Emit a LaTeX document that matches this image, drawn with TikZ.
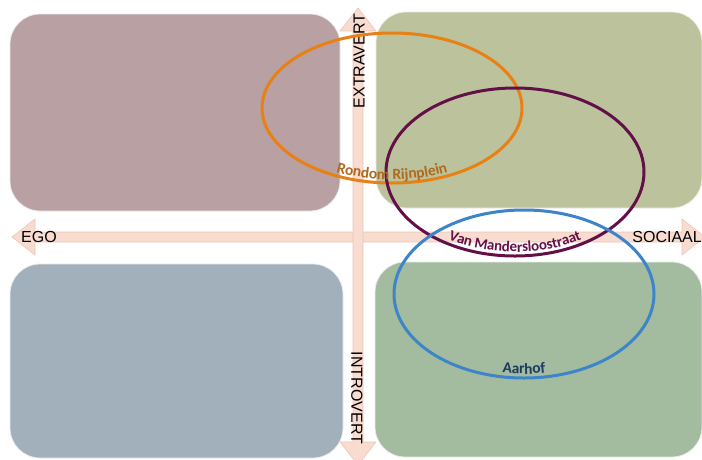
\documentclass[tikz,border=0pt]{standalone}
\usepackage{fontspec}
\setmainfont{Carlito}
\newfontfamily\axisfont{Liberation Sans}
\usepackage{tikz}
\usetikzlibrary{calc,decorations.text}

\definecolor{egoext}{RGB}{185,160,162}
\definecolor{socext}{RGB}{188,195,156}
\definecolor{egoint}{RGB}{162,176,188}
\definecolor{socint}{RGB}{163,187,159}
\definecolor{axisfill}{RGB}{248,220,208}
\definecolor{axisline}{RGB}{238,196,184}
\definecolor{rondom}{RGB}{232,128,20}
\definecolor{rondomtxt}{RGB}{176,106,30}
\definecolor{mander}{RGB}{100,16,72}
\definecolor{aarhof}{RGB}{62,132,200}
\definecolor{aarhoftxt}{RGB}{30,58,96}

\begin{document}
\begin{tikzpicture}[x=1pt,y=1pt,
    quad/.style={draw=white!85!gray, line width=0.8pt, rounded corners=30pt,
      inner sep=0pt, outer sep=0pt, anchor=north west},
    axis/.style={fill=axisfill, draw=axisline, line width=0.6pt},
    axislabel/.style={font=\axisfont\fontsize{16}{16}\selectfont, inner sep=0pt},
    buurt/.style={line width=3pt},
    buurtlabel/.style={decorate, decoration={text along path, text align=center, raise=#1}}
  ]
  \useasboundingbox (0,0) rectangle (702,-459);

  % quadranten
  \node[quad, fill=egoext, minimum width=330pt, minimum height=197pt] (egoExt) at (10,-14) {};
  \node[quad, fill=socext, minimum width=326pt, minimum height=196pt] (socExt) at (376,-12) {};
  \node[quad, fill=egoint, minimum width=333pt, minimum height=194pt] (egoInt) at (10,-264) {};
  \node[quad, fill=socint, minimum width=327pt, minimum height=195pt] (socInt) at (375,-262) {};

  % assen
  \path[axis] (12,-237) -- (35,-219) -- (35,-232) -- (682,-232) -- (682,-219)
    -- (705,-237) -- (682,-255) -- (682,-242) -- (35,-242) -- (35,-255) -- cycle;
  \path[axis] (358,-8) -- (376,-31) -- (363,-31) -- (363,-442) -- (376,-442)
    -- (358,-465) -- (340,-442) -- (353,-442) -- (353,-31) -- (340,-31) -- cycle;

  \node[axislabel, anchor=west] (ego) at (21,-237) {EGO};
  \node[axislabel, anchor=east] (sociaal) at (702,-237) {SOCIAAL};
  \node[axislabel, rotate=90] (extravert) at (359,-61) {EXTRAVERT};
  \node[axislabel, rotate=-90] (introvert) at (357,-398) {INTROVERT};

  % buurten
  \draw[buurt, rondom] (392,-108) ellipse [x radius=130, y radius=75];
  \draw[buurt, mander] (515,-172) ellipse [x radius=129, y radius=84];
  \draw[buurt, aarhof] (524,-294) ellipse [x radius=130, y radius=84];

  \path[buurtlabel=3.5pt, decoration={text={|\bfseries\fontsize{15.5}{15.5}\selectfont\color{rondomtxt}|Rondom Rijnplein}}]
    ($(392,-108)+(200:130 and 75)$) arc[start angle=200, end angle=340, x radius=130, y radius=75];
  \path[buurtlabel=4pt, decoration={text={|\bfseries\fontsize{15}{15}\selectfont\color{mander}|Van Mandersloostraat}}]
    ($(515,-172)+(200:129 and 84)$) arc[start angle=200, end angle=340, x radius=129, y radius=84];
  \path[buurtlabel=4pt, decoration={text={|\bfseries\fontsize{15.5}{15.5}\selectfont\color{aarhoftxt}|Aarhof}}]
    ($(524,-294)+(235:130 and 84)$) arc[start angle=235, end angle=305, x radius=130, y radius=84];
\end{tikzpicture}
\end{document}
